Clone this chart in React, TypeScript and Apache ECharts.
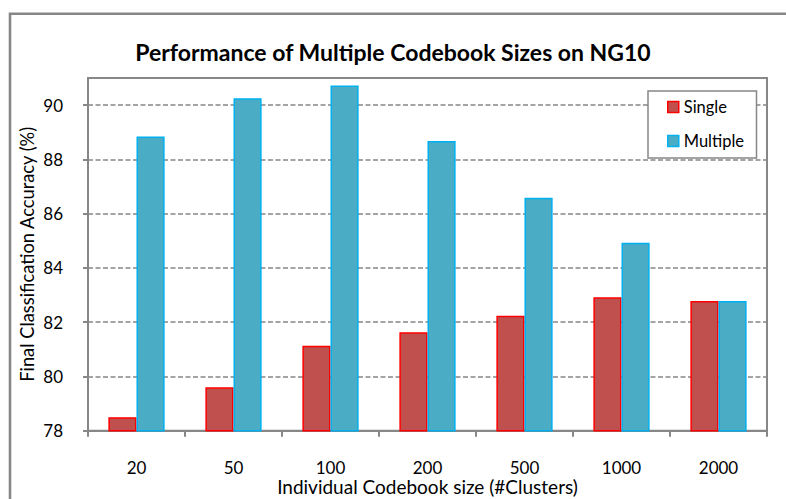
import React, { useEffect, useRef } from "react";
import * as echarts from "echarts";

const categories = ["20", "50", "100", "200", "500", "1000", "2000"];
const singleValues = [78.5, 79.6, 81.13, 81.63, 82.24, 82.92, 82.78];
const multipleValues = [88.84, 90.25, 90.72, 88.68, 86.59, 84.93, 82.78];
const seriesNames = ["Single", "Multiple"];
const yMin = 78;
const yMax = 91;
const yStep = 2;

const FONT = "Lato, 'Open Sans', sans-serif";
const GRAY = "#878787";

export default function App() {
  const ref = useRef<HTMLDivElement>(null);
  useEffect(() => {
    const chart = echarts.init(ref.current!, null, { renderer: "svg" });
    chart.setOption({
      animation: false,
      backgroundColor: "#ffffff",
      textStyle: { fontFamily: FONT, color: "#000" },
      title: {
        text: "Performance of Multiple Codebook Sizes on NG10",
        left: "center",
        top: 35,
        textStyle: { fontFamily: FONT, fontWeight: "bold", fontSize: 23, color: "#000" },
      },
      legend: {
        orient: "vertical",
        left: 662,
        top: 91,
        itemWidth: 11,
        itemHeight: 11,
        itemGap: 12,
        icon: "rect",
        z: 6,
        textStyle: { fontFamily: FONT, fontSize: 16.5, color: "#000", lineHeight: 22 },
        data: [
          { name: seriesNames[0], itemStyle: { color: "#C0504D", borderColor: "#FF0000", borderWidth: 1.5 } },
          { name: seriesNames[1], itemStyle: { color: "#4BACC6", borderColor: "#00B0F0", borderWidth: 1.5 } },
        ],
      },
      graphic: [
        {
          type: "polyline",
          shape: { points: [[10, 499], [10, 13.8], [786, 13.8]] },
          style: { stroke: GRAY, lineWidth: 2.6, fill: null },
          z: 10,
        },
        {
          type: "rect",
          shape: { x: 648, y: 91, width: 108.5, height: 67 },
          style: { stroke: GRAY, lineWidth: 1.5, fill: "#fff" },
          z: 1,
        },
      ],
      grid: {
        left: 88,
        right: 19,
        top: 78,
        bottom: 68.3,
        containLabel: false,
        outerBoundsMode: "none",
        show: true,
        borderColor: GRAY,
        borderWidth: 2,
        backgroundColor: "transparent",
      },
      xAxis: {
        type: "category",
        data: categories,
        name: "Individual Codebook size (#Clusters)",
        nameLocation: "middle",
        nameGap: 46,
        nameMoveOverlap: false,
        nameTextStyle: {
          fontFamily: FONT,
          fontSize: 19,
          color: "#000",
          lineHeight: 19,
        },
        axisLine: { lineStyle: { color: GRAY, width: 2 } },
        axisTick: { show: true, length: 6, lineStyle: { color: GRAY, width: 2 } },
        axisLabel: { margin: 28, fontFamily: FONT, fontSize: 17, color: "#000", lineHeight: 17 },
      },
      yAxis: {
        type: "value",
        min: yMin,
        max: yMax,
        interval: yStep,
        name: "Final Classification Accuracy (%)",
        nameLocation: "middle",
        nameGap: 52,
        nameMoveOverlap: false,
        nameTextStyle: { fontFamily: FONT, fontSize: 18.3, color: "#000" },
        axisLine: { show: true, lineStyle: { color: GRAY, width: 2 } },
        axisTick: { show: true, length: 5, lineStyle: { color: GRAY, width: 2 } },
        axisLabel: {
          margin: 25,
          fontFamily: FONT,
          fontSize: 17,
          color: "#000",
          showMaxLabel: false,
        },
        splitLine: {
          show: true,
          showMaxLine: false,
          showMinLine: false,
          lineStyle: { color: GRAY, width: 1.5, type: [5, 2.5] },
        },
      },
      series: [
        {
          name: seriesNames[0],
          type: "bar",
          data: singleValues,
          barGap: "0%",
          barCategoryGap: "42%",
          itemStyle: { color: "#C0504D", borderColor: "#FF0000", borderWidth: 1.5 },
        },
        {
          name: seriesNames[1],
          type: "bar",
          data: multipleValues,
          barGap: "0%",
          barCategoryGap: "42%",
          itemStyle: { color: "#4BACC6", borderColor: "#00B0F0", borderWidth: 1.5 },
        },
      ],
    });
    return () => chart.dispose();
  }, []);
  return (
    <div
      ref={ref}
      style={{ position: "fixed", left: 0, top: 0, width: 786, height: 499, background: "#fff" }}
    />
  );
}
